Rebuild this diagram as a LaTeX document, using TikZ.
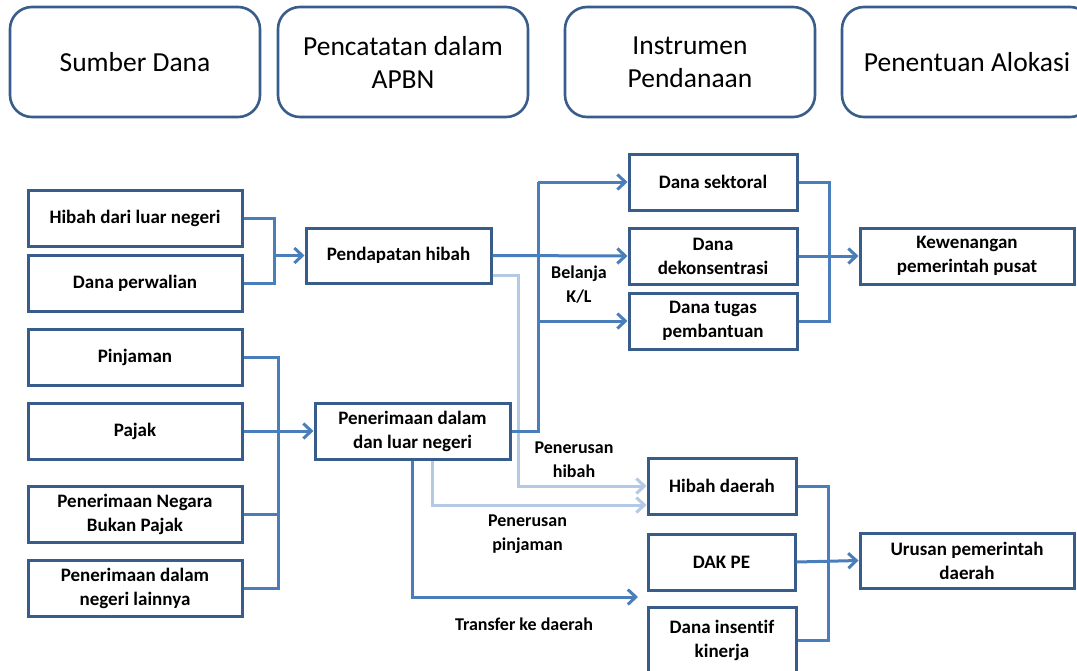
\documentclass[tikz,border=0pt]{standalone}
\usepackage{fontspec}
\setmainfont{Carlito}[Ligatures=NoCommon]
\usetikzlibrary{arrows.meta}
\definecolor{boxcol}{RGB}{56,93,138}
\definecolor{conncol}{RGB}{74,126,187}
\definecolor{lightcol}{RGB}{180,201,228}
\tikzset{
  hdr/.style={draw=boxcol, line width=2.6pt, rounded corners=22pt, minimum width=250pt, minimum height=110pt, align=center, font=\fontsize{27.5}{33}\selectfont},
  bx/.style={draw=boxcol, line width=3pt, minimum height=56pt, align=center, font=\fontsize{19}{24}\selectfont\bfseries, fill=white},
  lab/.style={align=center, font=\fontsize{18}{24}\selectfont\bfseries},
  conn/.style={draw=conncol, line width=3pt},
  arr/.style={conn, -{Straight Barb[length=8pt,width=15pt]}},
  ltarr/.style={draw=lightcol, line width=3pt, -{Straight Barb[length=8pt,width=15pt]}}
}
\begin{document}
\begin{tikzpicture}[x=1pt,y=-1pt]
\useasboundingbox (0,0) rectangle (1077,670);
% headers
\node[hdr] (h1) at (135,62) {Sumber Dana};
\node[hdr] (h2) at (403,62) {Pencatatan dalam\\APBN};
\node[hdr] (h3) at (690,62) {Instrumen\\Pendanaan};
\node[hdr] (h4) at (967,62) {Penentuan Alokasi};
% left boxes
\node[bx, minimum width=214pt] (hib) at (135,218.5) {Hibah dari luar negeri};
\node[bx, minimum width=214pt] (dp) at (135,283.5) {Dana perwalian};
\node[bx, minimum width=214pt] (pin) at (135,357) {Pinjaman};
\node[bx, minimum width=214pt] (paj) at (135,431) {Pajak};
\node[bx, minimum width=214pt] (pnbp) at (135,514) {Penerimaan Negara\\Bukan Pajak};
\node[bx, minimum width=214pt] (pdnl) at (135,588) {Penerimaan dalam\\negeri lainnya};
% middle boxes
\node[bx, minimum width=185pt, minimum height=55pt] (ph) at (398.5,255.5) {Pendapatan hibah};
\node[bx, minimum width=195pt] (pdl) at (412.5,431) {Penerimaan dalam\\dan luar negeri};
% instrument boxes
\node[bx, minimum width=168pt] (ds) at (713,182) {Dana sektoral};
\node[bx, minimum width=168pt] (dk) at (713,256) {Dana\\dekonsentrasi};
\node[bx, minimum width=168pt] (dt) at (713,321) {Dana tugas\\pembantuan};
\node[bx, minimum width=148pt] (hd) at (722,486) {Hibah daerah};
\node[bx, minimum width=147pt] (dak) at (721.5,562) {DAK PE};
\node[bx, minimum width=148pt, minimum height=66pt] (dik) at (722,640) {Dana insentif\\kinerja};
% allocation boxes
\node[bx, minimum width=214pt] (kw) at (967,256) {Kewenangan\\pemerintah pusat};
\node[bx, minimum width=214pt, minimum height=55pt] (ur) at (967,560.5) {Urusan pemerintah\\daerah};
% labels
\node[lab] (bel) at (579,285) {Belanja\\K/L};
\node[lab] (phb) at (574,459.5) {Penerusan\\hibah};
\node[lab] (ppj) at (527.5,534) {Penerusan\\pinjaman};
\node[lab] (tkd) at (524,624) {Transfer ke daerah};
% junction coordinates
\coordinate (j1) at (274,255.5);
\coordinate (j2) at (278,431);
\coordinate (j3) at (538,182);
\coordinate (j4) at (829,256);
\coordinate (j5) at (828,562);
\coordinate (l1) at (518,486);
\coordinate (l2) at (432.5,505);
\coordinate (t1) at (412.5,597);
\coordinate (t2) at (638,597);
% light connectors
\draw[ltarr] ([yshift=9pt]ph.south east) -| (l1) -- (hd.west);
\draw[ltarr] (l2 |- pdl.south) -- (l2) -- (l2 -| hd.west);
% connectors
\draw[conn] (hib.east) -| (j1) |- (dp.east);
\draw[arr] (j1) -- (ph.west);
\draw[conn] (pin.east) -| (j2) |- (pdnl.east);
\draw[conn] (pnbp.east) -- (pnbp.east -| j2);
\draw[arr] (paj.east) -- (pdl.west);
\draw[conn] (pdl.east) -| (j3);
\draw[arr] (j3) -- (ds.west);
\draw[arr] (j3 |- dt.west) -- (dt.west);
\draw[arr] (ph.east) -- (dk.west);
\draw[conn] (ds.east) -| (j4) |- (dt.east);
\draw[arr] (dk.east) -- (kw.west);
\draw[conn] (hd.east) -| (j5) |- (dik.east);
\draw[arr] (dak.east) -- (ur.west);
\draw[arr] (pdl.south) -- (t1) -- (t2);
\end{tikzpicture}
\end{document}
